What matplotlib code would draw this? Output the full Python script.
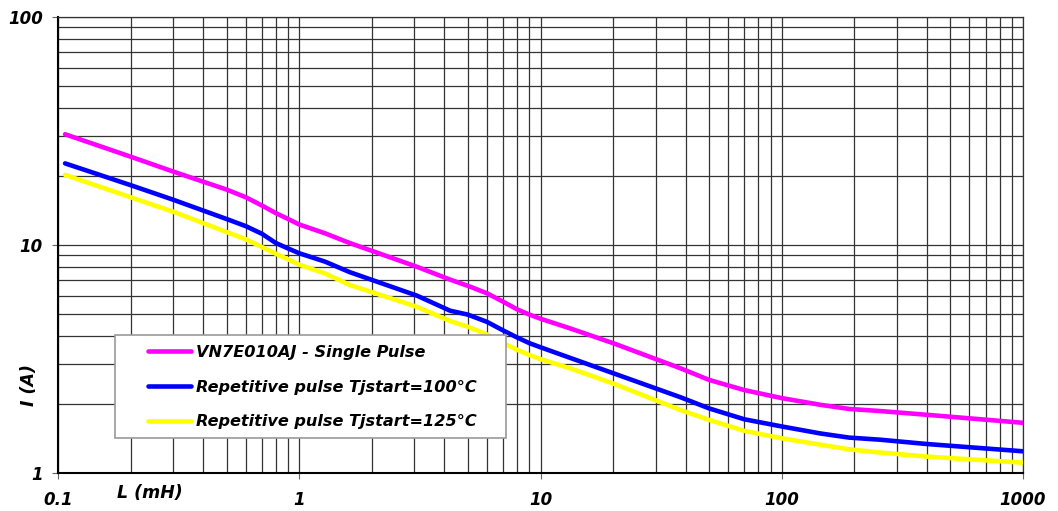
import matplotlib
matplotlib.use("Agg")
import matplotlib.pyplot as plt
from matplotlib.patches import Rectangle
from matplotlib.ticker import LogLocator, FixedLocator, NullFormatter

# Data
L_mH = [0.107, 0.2, 0.3, 0.5, 0.6, 0.7, 0.8, 0.9, 1.0, 1.28, 1.62, 3.07, 4.22, 5,
        6, 7, 8, 9, 10, 13.25, 20, 38, 50, 70, 100, 145, 190, 255, 400, 1000]
single_pulse = [30.6, 24.4, 21.0, 17.5, 16.2, 14.9, 13.8, 13.0, 12.3, 11.25, 10.2,
                8.03, 7.05, 6.62, 6.14, 5.64, 5.22, 4.95, 4.75, 4.31, 3.71, 2.88,
                2.56, 2.31, 2.13, 1.99, 1.91, 1.87, 1.80, 1.66]
rep_100 = [22.8, 18.3, 15.8, 13.0, 12.1, 11.2, 10.2, 9.65, 9.2, 8.45, 7.6, 6.0,
           5.15, 4.95, 4.6, 4.22, 3.93, 3.71, 3.56, 3.20, 2.74, 2.15, 1.92,
           1.72, 1.60, 1.49, 1.43, 1.40, 1.34, 1.245]
rep_125 = [20.3, 16.2, 14.0, 11.4, 10.6, 9.8, 9.15, 8.65, 8.2, 7.5, 6.68, 5.36,
           4.64, 4.38, 4.05, 3.71, 3.47, 3.29, 3.16, 2.88, 2.47, 1.89, 1.71,
           1.53, 1.42, 1.33, 1.27, 1.23, 1.18, 1.11]

labels = ["VN7E010AJ - Single Pulse",
          "Repetitive pulse Tjstart=100°C",
          "Repetitive pulse Tjstart=125°C"]
colors = ["#FF00FF", "#0000FF", "#FFFF00"]
x_ticks = [0.1, 1, 10, 100, 1000]
x_ticklabels = ["0.1", "1", "10", "100", "1000"]
y_ticks = [1, 10, 100]
y_ticklabels = ["1", "10", "100"]

plt.rcParams['font.family'] = ['DejaVu Sans']
FONT = dict(fontweight='bold', fontstyle='italic')

fig = plt.figure(figsize=(10.58, 5.11), dpi=100)
W, H = 1058, 511
ax = fig.add_axes([58 / W, 1 - 473 / H, (1023 - 58) / W, (473 - 17) / H])

for y, lab, c in zip([single_pulse, rep_100, rep_125], labels, colors):
    ax.plot(L_mH, y, color=c, lw=3.3, label=lab, solid_capstyle='round',
            solid_joinstyle='round', zorder=3)

ax.set_xscale('log')
ax.set_yscale('log')
ax.set_xlim(0.1, 1000)
ax.set_ylim(1, 100)

ax.xaxis.set_major_locator(FixedLocator(x_ticks))
ax.yaxis.set_major_locator(FixedLocator(y_ticks))
ax.set_xticklabels(x_ticklabels)
ax.set_yticklabels(y_ticklabels)
ax.xaxis.set_minor_locator(LogLocator(base=10, subs=range(2, 10)))
ax.yaxis.set_minor_locator(LogLocator(base=10, subs=range(2, 10)))
ax.xaxis.set_minor_formatter(NullFormatter())
ax.yaxis.set_minor_formatter(NullFormatter())

ax.grid(True, which='both', color='#333333', lw=0.9, zorder=1)
ax.tick_params(which='minor', length=0)
ax.tick_params(which='major', length=4, width=0.8, color='#666666')
ax.tick_params(axis='y', pad=7)
ax.tick_params(axis='x', pad=9)
for lab in ax.get_xticklabels() + ax.get_yticklabels():
    lab.set_fontweight('bold')
    lab.set_fontstyle('italic')
    lab.set_fontsize(12)

for s in ['top', 'right']:
    ax.spines[s].set_color('#333333')
    ax.spines[s].set_linewidth(0.9)
for s in ['left', 'bottom']:
    ax.spines[s].set_color('black')
    ax.spines[s].set_linewidth(1.5)

fig.text(150 / W, 1 - 493 / H, "L (mH)", fontsize=12.5, ha='center', va='center', **FONT)
fig.text(29 / W, 1 - 385 / H, "I (A)", fontsize=12.5, ha='center', va='center',
         rotation=90, **FONT)

# legend frame
frame = Rectangle((115 / W, 1 - 438 / H), (506 - 115) / W, (438 - 335) / H,
                  transform=fig.transFigure, facecolor='white', edgecolor='#999999',
                  lw=1.2, zorder=4, clip_on=False)
ax.add_patch(frame)

leg = ax.legend(loc='upper left', bbox_to_anchor=(148 / W, 1 - 345 / H),
                bbox_transform=fig.transFigure, frameon=False,
                borderpad=0, labelspacing=1.22, handlelength=2.65,
                handletextpad=0.33, borderaxespad=0,
                prop={'weight': 'bold', 'style': 'italic', 'size': 11.6})
leg.set_zorder(5)

fig.savefig("out.png", dpi=100)
